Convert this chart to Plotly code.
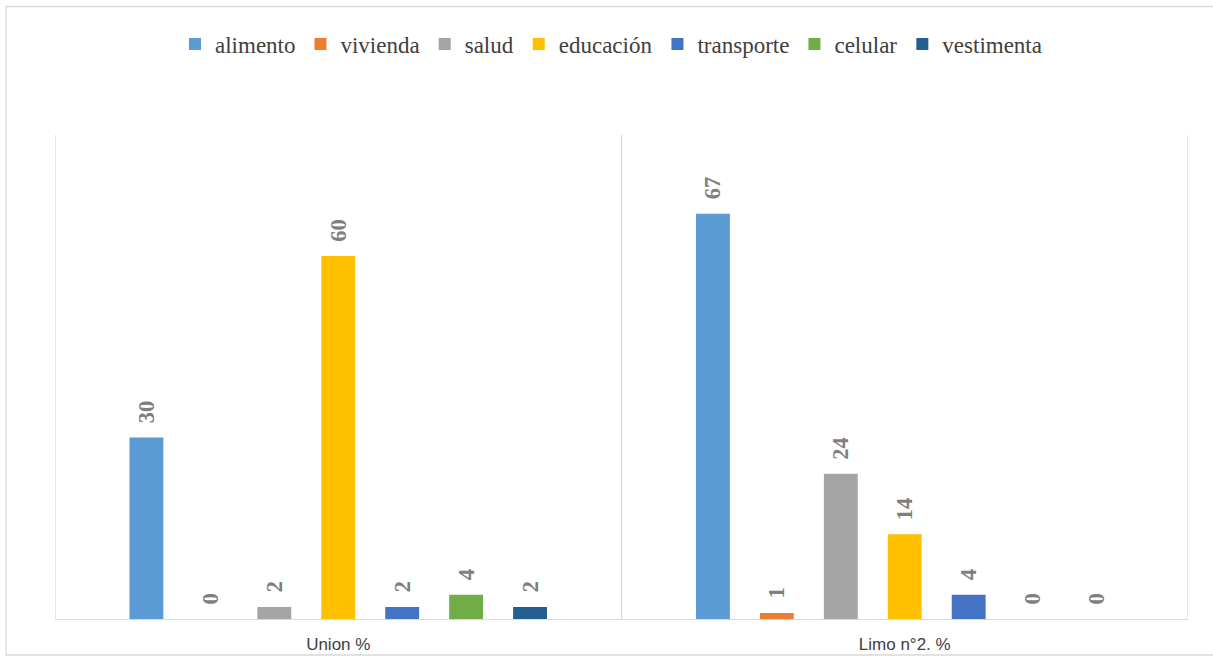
import plotly.graph_objects as go

# Categories on the x axis and the expense types shown as bar series
grupos = ["Union %", "Limo n°2. %"]
rubros = ["alimento", "vivienda", "salud", "educación", "transporte", "celular", "vestimenta"]
valores = {
    "alimento":   [30, 67],
    "vivienda":   [0, 1],
    "salud":      [2, 24],
    "educación":  [60, 14],
    "transporte": [2, 4],
    "celular":    [4, 0],
    "vestimenta": [2, 0],
}
colores = {
    "alimento":   "#5B9BD5",
    "vivienda":   "#ED7D31",
    "salud":      "#A5A5A5",
    "educación":  "#FFC000",
    "transporte": "#4472C4",
    "celular":    "#70AD47",
    "vestimenta": "#255E91",
}

SERIF = "Liberation Serif, Times New Roman, serif"
SANS = "Liberation Sans, Arial, sans-serif"

fig = go.Figure()
for r in rubros:
    fig.add_trace(go.Bar(
        name=r,
        x=grupos,
        y=valores[r],
        marker=dict(color=colores[r], line=dict(width=0)),
        # leading non-breaking spaces keep the rotated label clear of the bar top
        text=["\u00a0\u00a0" + str(v) for v in valores[r]],
        textposition="outside",
        textangle=-90,
        cliponaxis=False,
        textfont=dict(family=SERIF, size=23, color="#7f7f7f", weight="bold"),
    ))

W, H = 1213, 656
L, R, T, B = 55, 25, 135, 37
pw, ph = W - L - R, H - T - B

def px_x(x):
    return (x - L) / pw

def px_y(y):
    return (H - B - y) / ph

shapes = []
# vertical separators between categories
for xv in [-0.5, 0.5, 1.5]:
    shapes.append(dict(type="line", xref="x", yref="paper", x0=xv, x1=xv, y0=0, y1=1,
                       line=dict(color="#d9d9d9", width=1.3), layer="below"))
# outer chart border
shapes.append(dict(type="rect", xref="paper", yref="paper",
                   x0=px_x(6), x1=px_x(1216), y0=px_y(655), y1=px_y(6.5),
                   line=dict(color="#d9d9d9", width=1.3), fillcolor="rgba(0,0,0,0)"))

fig.update_layout(
    width=W, height=H,
    margin=dict(l=L, r=R, t=T, b=B, autoexpand=False),
    paper_bgcolor="white",
    plot_bgcolor="white",
    barmode="group",
    bargap=0.21,
    bargroupgap=0.47,
    showlegend=True,
    legend=dict(
        orientation="h",
        x=px_x(611), xanchor="center",
        y=px_y(44), yanchor="middle",
        font=dict(family=SERIF, size=23, color="#404040"),
        itemwidth=30,
        traceorder="normal",
    ),
    xaxis=dict(
        type="category",
        range=[-0.5, 1.5],
        showgrid=False,
        showline=True,
        linecolor="#d9d9d9",
        linewidth=1.3,
        ticks="",
        automargin=False,
        ticklabelstandoff=9,
        tickfont=dict(family=SANS, size=17, color="#404040"),
    ),
    yaxis=dict(
        range=[0, 80],
        showgrid=False,
        zeroline=False,
        showticklabels=False,
        showline=False,
        automargin=False,
    ),
    shapes=shapes,
)

fig.write_html("out.html")
